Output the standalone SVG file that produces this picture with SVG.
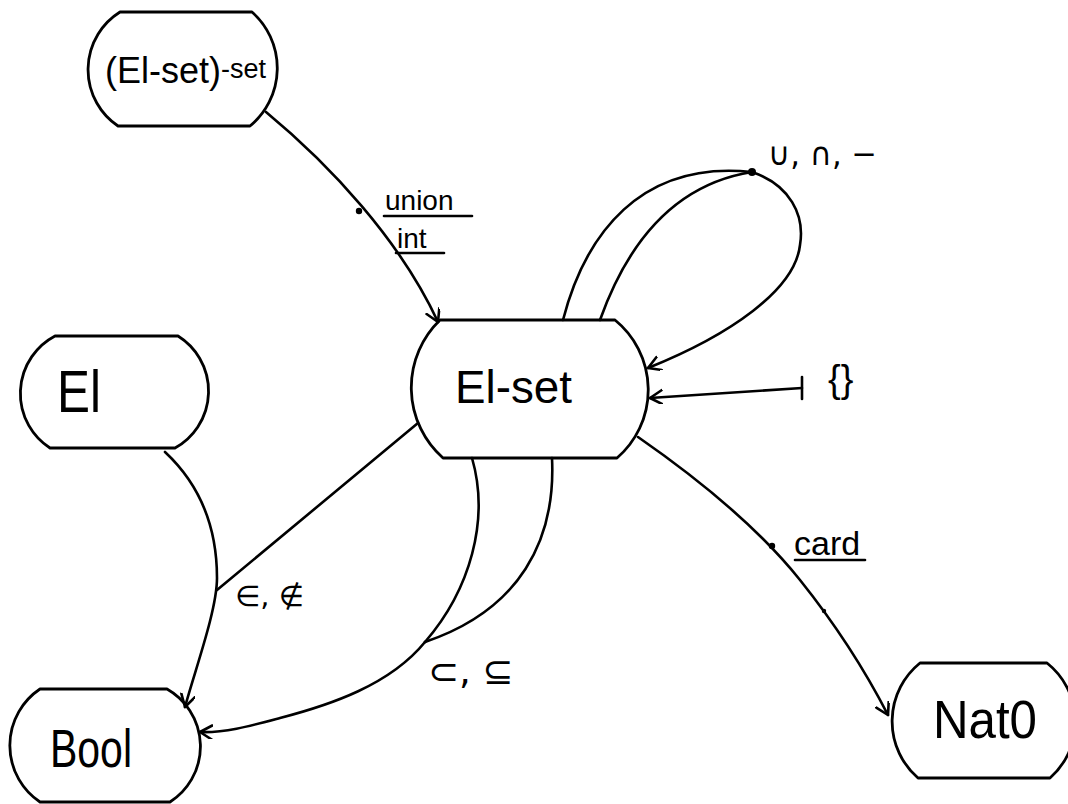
<svg xmlns="http://www.w3.org/2000/svg" width="1068" height="804" viewBox="0 0 1068 804">
<style>
.node{fill:none;stroke:#000;stroke-width:2.8;stroke-linejoin:round}
.edge{fill:none;stroke:#000;stroke-width:2.6;stroke-linecap:round;stroke-linejoin:round}
.t{font-family:"Liberation Sans","DejaVu Sans",sans-serif;fill:#000}
.m{font-family:"DejaVu Sans","Liberation Sans",sans-serif;fill:#000}
.dot{fill:#000}
</style>
<defs>
<marker id="arr" markerUnits="userSpaceOnUse" markerWidth="20" markerHeight="20" refX="13" refY="7" orient="auto" viewBox="0 0 20 20">
<path d="M1,0 L13,7 L1,14" fill="none" stroke="#000" stroke-width="2.6" stroke-linecap="round" stroke-linejoin="round"/>
</marker>
</defs>
<rect width="1068" height="804" fill="#fff"/>

<g id="node-elsetset">
<path class="node" d="M120,12 L252,12 A75,75 0 0 1 250,126 L118,126 A68,68 0 0 1 120,12 Z"/>
<text class="t" x="105" y="83" font-size="36">(El-set)<tspan font-size="27" dy="-5">-set</tspan></text>
</g>

<g id="node-elset">
<path class="node" d="M440,320 L615,320 A90,90 0 0 1 617,458 L443,458 A94,94 0 0 1 440,320 Z"/>
<text class="t" x="455" y="403" font-size="47" textLength="117" lengthAdjust="spacingAndGlyphs">El-set</text>
</g>

<g id="node-el">
<path class="node" d="M55,336 L178,336 A65,65 0 0 1 175,448 L50,448 A65,65 0 0 1 55,336 Z"/>
<text class="t" x="57" y="412" font-size="60" textLength="44" lengthAdjust="spacingAndGlyphs">El</text>
</g>

<g id="node-bool">
<path class="node" d="M40,689 L167,689 A66,66 0 0 1 170,802 L40,802 A68,68 0 0 1 40,689 Z"/>
<text class="t" x="50" y="767" font-size="53" textLength="82" lengthAdjust="spacingAndGlyphs">Bool</text>
</g>

<g id="node-nat0">
<path class="node" d="M920,663 L1047,663 A75,75 0 0 1 1050,778 L918,778 A75,75 0 0 1 920,663 Z"/>
<text class="t" x="933" y="738" font-size="54" textLength="104" lengthAdjust="spacingAndGlyphs">Nat0</text>
</g>

<g id="connectors">
<path class="edge" d="M266,112 C330,165 400,240 438,322" marker-end="url(#arr)"/>
<circle class="dot" cx="359" cy="211" r="3.2"/>
<text class="t" x="385" y="210" font-size="28">union</text>
<line class="edge" x1="384" y1="216" x2="472" y2="216" stroke-width="2"/>
<text class="t" x="397" y="248" font-size="28">int</text>
<line class="edge" x1="396" y1="253" x2="444" y2="253" stroke-width="2"/>

<path class="edge" d="M563,320 C585,235 640,160 752,172"/>
<path class="edge" d="M600,320 C625,250 670,185 752,172"/>
<path class="edge" d="M752,172 C790,185 805,215 800,245 C795,290 730,335 648,368" marker-end="url(#arr)"/>
<circle class="dot" cx="752" cy="172" r="4"/>
<text class="m" x="768" y="165" font-size="32" textLength="109" lengthAdjust="spacingAndGlyphs">∪, ∩, −</text>

<path class="edge" d="M802,388 L650,398" marker-end="url(#arr)"/>
<line class="edge" x1="802" y1="377" x2="802" y2="399" stroke-width="3"/>
<text class="t" x="828" y="392" font-size="38">{}</text>

<path class="edge" d="M165,452 C195,480 217,520 217,578 C217,610 195,670 185,707" marker-end="url(#arr)"/>
<path class="edge" d="M418,423 L217,590"/>
<text class="m" x="235" y="606" font-size="29">∈, ∉</text>

<path class="edge" d="M472,458 C490,520 470,590 425,642"/>
<path class="edge" d="M552,458 C556,540 520,610 425,642"/>
<path class="edge" d="M425,642 C390,685 330,705 280,718 C250,726 225,733 200,732" marker-end="url(#arr)"/>
<text class="m" x="428" y="684" font-size="37">⊂, ⊆</text>

<path class="edge" d="M638,437 C700,480 760,530 800,580 C840,630 870,680 888,715" marker-end="url(#arr)"/>
<circle class="dot" cx="772" cy="546" r="3.2"/>
<circle class="dot" cx="824" cy="611" r="2.2"/>
<text class="t" x="794" y="555" font-size="34">card</text>
<line class="edge" x1="795" y1="560" x2="865" y2="560" stroke-width="2"/>
</g>
</svg>
